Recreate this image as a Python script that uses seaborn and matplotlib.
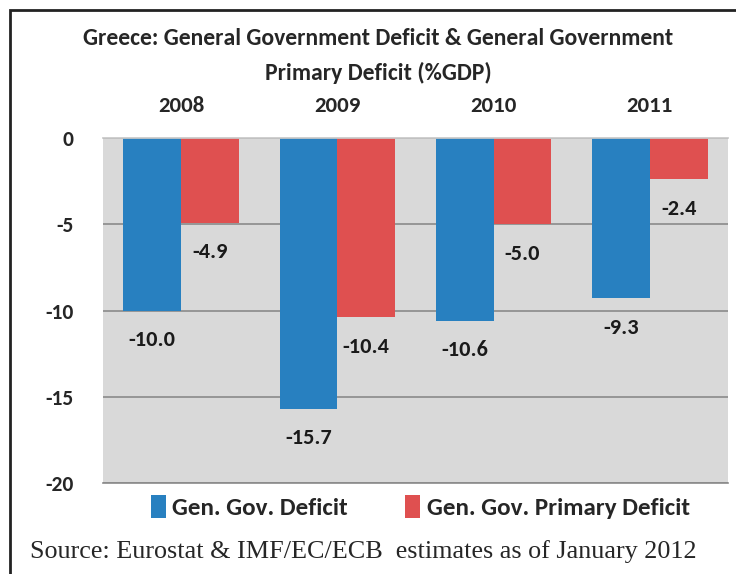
import matplotlib
matplotlib.use("Agg")
import matplotlib.pyplot as plt
from matplotlib import font_manager
from matplotlib.patches import Rectangle
import pandas as pd
import seaborn as sns

years = ["2008", "2009", "2010", "2011"]
deficit = [-10.0, -15.7, -10.6, -9.3]
primary_deficit = [-4.9, -10.4, -5.0, -2.4]
series_names = ["Gen. Gov. Deficit", "Gen. Gov. Primary Deficit"]
y_ticks = [0, -5, -10, -15, -20]

title = "Greece: General Government Deficit & General Government\nPrimary Deficit (%GDP)"
source = "Source: Eurostat & IMF/EC/ECB  estimates as of January 2012"

df = pd.DataFrame({
    "year": years * 2,
    "value": deficit + primary_deficit,
    "series": [series_names[0]] * len(years) + [series_names[1]] * len(years),
})

sns.set_theme(style="white")
installed = {f.name for f in font_manager.fontManager.ttflist}
sans = next((f for f in ["Carlito", "Liberation Sans Narrow", "Lato"] if f in installed), "DejaVu Sans")
plt.rcParams["font.family"] = [sans, "DejaVu Sans"]
plt.rcParams["axes.unicode_minus"] = False

fig = plt.figure(figsize=(7.36, 5.74), dpi=100)
ax = fig.add_axes([0.140, 0.1585, 0.849, 0.6011])

sns.barplot(data=df, x="year", y="value", hue="series",
            palette=["#2880c0", "#df5050"], width=0.74, saturation=1,
            edgecolor="none", ax=ax, legend=True)

ax.set_ylim(-20, 0)
ax.set_yticks(y_ticks)
ax.set_facecolor("#d9d9d9")
ax.set_axisbelow(True)
ax.yaxis.grid(True, color="#8a8a8a", linewidth=1.2)
ax.xaxis.tick_top()
ax.tick_params(axis="x", length=0, pad=16, labelsize=16.5)
ax.tick_params(axis="y", length=0, pad=21, labelsize=15.5)
for lab in ax.get_xticklabels() + ax.get_yticklabels():
    lab.set_fontweight("bold")
ax.set_xlabel("")
ax.set_ylabel("")
for side in ["left", "right"]:
    ax.spines[side].set_visible(False)
ax.spines["top"].set_color("#c8c8c8")
ax.spines["bottom"].set_color("#8a8a8a")
ax.spines["bottom"].set_linewidth(1.2)

for container in ax.containers:
    ax.bar_label(container, fmt="%.1f", padding=14, fontsize=16,
                 fontweight="bold", color="#1a1a1a")

handles, labels = ax.get_legend_handles_labels()
ax.get_legend().remove()
fig.legend(handles, labels, loc="center", bbox_to_anchor=(0.571, 1 - 507 / 574),
           ncol=2, frameon=False, handlelength=0.6, handleheight=1.0,
           handletextpad=0.25, columnspacing=2.3,
           prop={"weight": "bold", "size": 18})

fig.text(0.514, 1 - 56 / 574, title, ha="center", va="center", fontsize=17,
         fontweight="bold", linespacing=1.7)
fig.text(30 / 736, 1 - 552 / 574, source, ha="left", va="center",
         fontsize=18.8, family=["Liberation Serif", "DejaVu Serif"])

fig.patches.append(Rectangle((10 / 736, -0.1), 1.2, 0.1 + (564 / 574),
                             transform=fig.transFigure, fill=False,
                             edgecolor="#222222", linewidth=2))

fig.savefig("out.png", dpi=100)
